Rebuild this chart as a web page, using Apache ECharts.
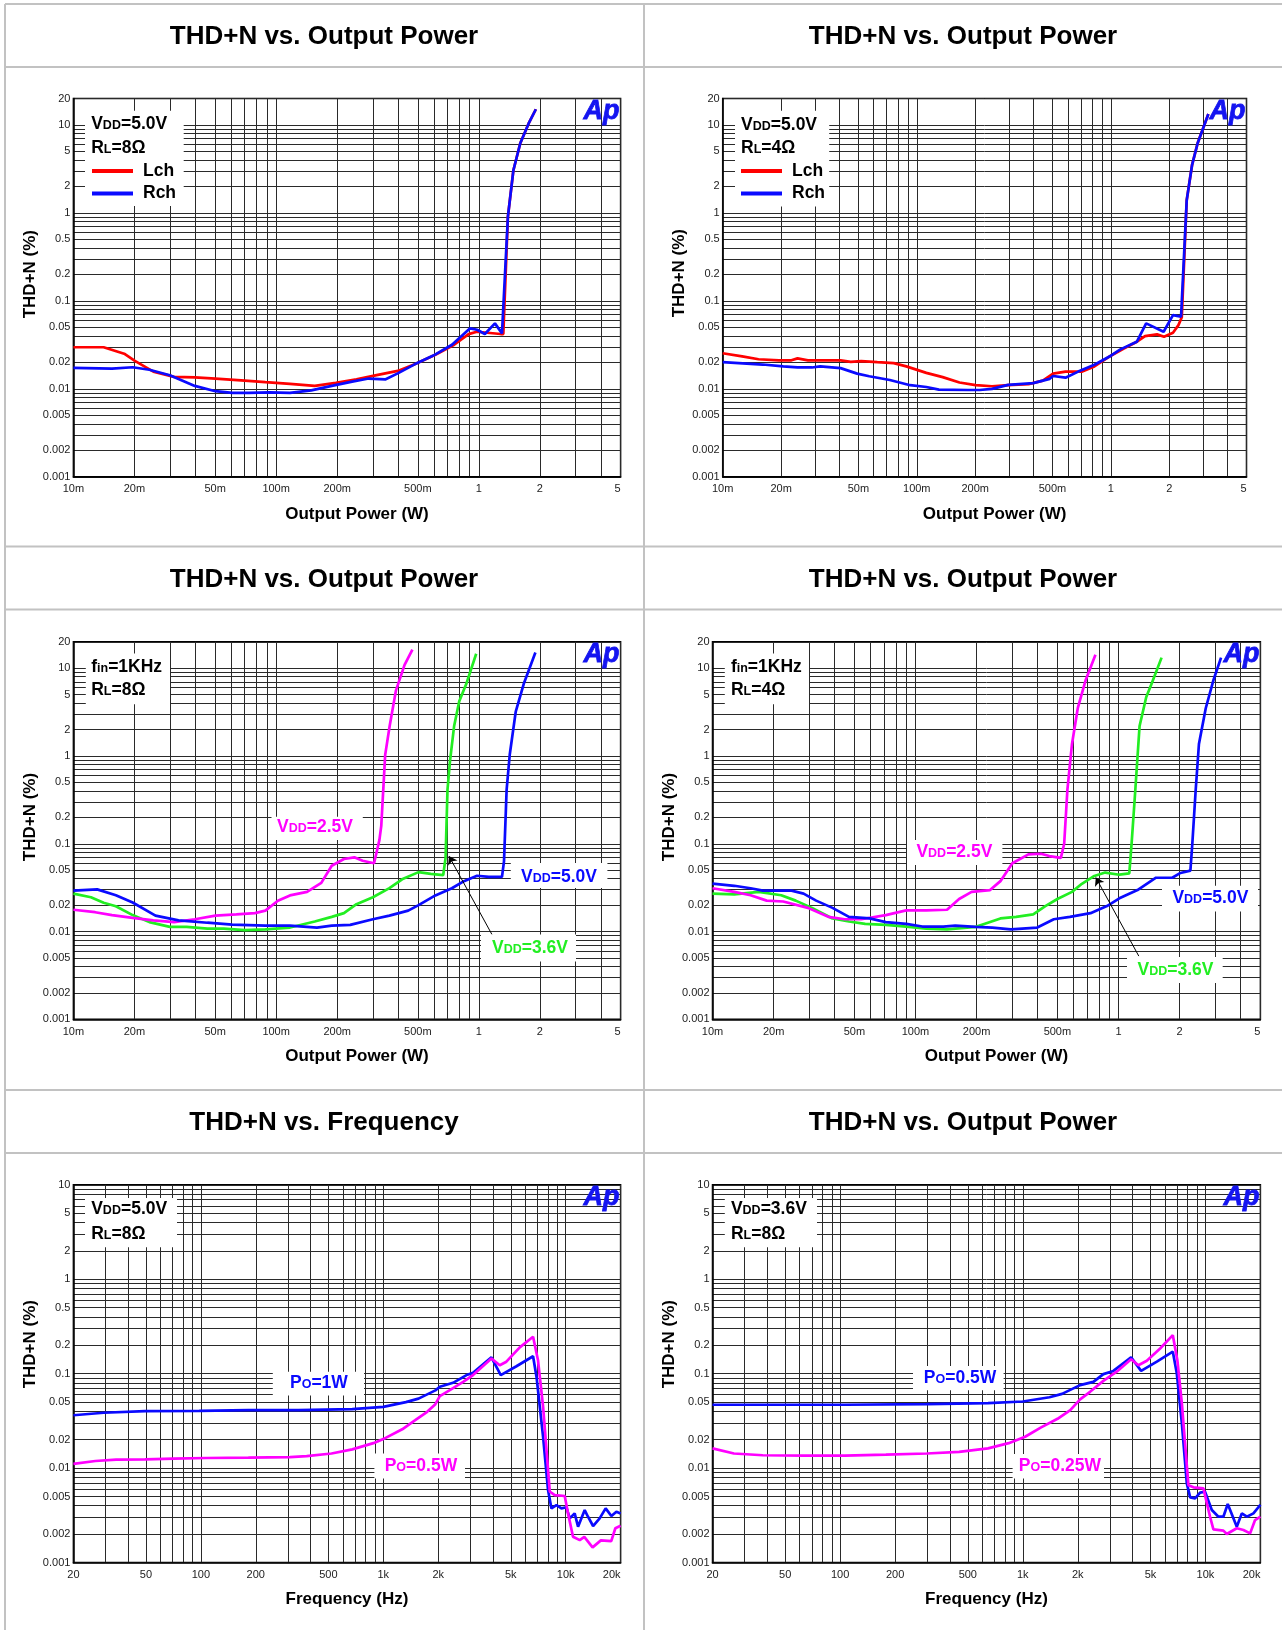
<!DOCTYPE html>
<html><head><meta charset="utf-8">
<script src="https://cdn.jsdelivr.net/npm/echarts@6/dist/echarts.min.js"></script>
<style>html,body{margin:0;padding:0;background:#fff}#c{width:1282px;height:1630px}</style>
</head><body><div id="c"></div>
<script>
// ---------------- tick labels ----------------
const powerXTicks  = [0.01, 0.02, 0.05, 0.1, 0.2, 0.5, 1, 2, 5];
const powerXLabels = ['10m', '20m', '50m', '100m', '200m', '500m', '1', '2', '5'];
const freqXTicks   = [20, 50, 100, 200, 500, 1000, 2000, 5000, 10000, 20000];
const freqXLabels  = ['20', '50', '100', '200', '500', '1k', '2k', '5k', '10k', '20k'];
const thdYTicks    = [0.001, 0.002, 0.005, 0.01, 0.02, 0.05, 0.1, 0.2, 0.5, 1, 2, 5, 10, 20];
const thdYLabels   = ['0.001', '0.002', '0.005', '0.01', '0.02', '0.05', '0.1', '0.2', '0.5', '1', '2', '5', '10', '20'];

// ---------------- panel 1: VDD=5.0V, RL=8Ω (W, %) ----------------
const p1Lch = [[0.01,0.0297],[0.0141,0.0297],[0.0178,0.0251],[0.0201,0.0208],[0.0248,0.0157],[0.0314,0.0137],[0.0397,0.0135],[0.0502,0.0131],[0.070,0.0124],[0.0885,0.0119],[0.117,0.0114],[0.155,0.0108],[0.197,0.0117],[0.249,0.0128],[0.313,0.0143],[0.398,0.0160],[0.482,0.0190],[0.610,0.0244],[0.755,0.0317],[0.890,0.0419],[0.977,0.0446],[1.28,0.042],[1.32,0.042],[1.39,0.90],[1.48,3.06],[1.60,6.2],[1.76,10.4],[1.91,15.1]];
const p1Rch = [[0.01,0.0173],[0.0155,0.0170],[0.0196,0.0176],[0.0237,0.0165],[0.0299,0.0143],[0.0397,0.0108],[0.0502,0.0094],[0.0607,0.0090],[0.0732,0.0090],[0.0929,0.0091],[0.117,0.0090],[0.149,0.0096],[0.188,0.0108],[0.237,0.0121],[0.286,0.0131],[0.345,0.0128],[0.398,0.0150],[0.482,0.0190],[0.596,0.0239],[0.737,0.0317],[0.905,0.0487],[0.98,0.047],[1.07,0.042],[1.20,0.0555],[1.30,0.0427],[1.32,0.042],[1.39,0.90],[1.48,3.06],[1.60,6.2],[1.76,10.4],[1.91,15.1]];

// ---------------- panel 2: VDD=5.0V, RL=4Ω ----------------
const p2Lch = [[0.01,0.0254],[0.0126,0.0234],[0.0153,0.0217],[0.0195,0.0211],[0.0226,0.0211],[0.0243,0.0222],[0.0275,0.0211],[0.0405,0.0211],[0.0457,0.0203],[0.0517,0.0207],[0.0626,0.0201],[0.0761,0.0196],[0.0883,0.0180],[0.112,0.0152],[0.136,0.0136],[0.166,0.0118],[0.201,0.0110],[0.244,0.0107],[0.296,0.0110],[0.377,0.0113],[0.446,0.0124],[0.504,0.0149],[0.584,0.0157],[0.712,0.0157],[0.823,0.0180],[1.0,0.0238],[1.16,0.0286],[1.37,0.0346],[1.50,0.0398],[1.73,0.0416],[1.88,0.0391],[2.09,0.0434],[2.23,0.053],[2.32,0.065],[2.46,1.40],[2.62,3.49],[2.80,6.2],[3.18,13.3]];
const p2Rch = [[0.01,0.0201],[0.0133,0.0194],[0.0161,0.0189],[0.0205,0.0180],[0.0243,0.0175],[0.0288,0.0175],[0.0318,0.0180],[0.0405,0.0172],[0.0493,0.0149],[0.0569,0.0139],[0.0726,0.0126],[0.0925,0.0110],[0.112,0.0105],[0.130,0.0098],[0.183,0.0097],[0.211,0.0097],[0.244,0.0100],[0.296,0.0111],[0.398,0.0116],[0.484,0.0130],[0.504,0.0140],[0.584,0.0134],[0.679,0.0157],[0.823,0.0188],[1.0,0.0238],[1.12,0.0281],[1.36,0.0343],[1.52,0.0555],[1.87,0.0446],[2.09,0.069],[2.30,0.066],[2.32,0.066],[2.46,1.40],[2.62,3.49],[2.80,6.2],[3.18,13.3]];

// ---------------- panel 3: fin=1kHz, RL=8Ω ----------------
const p3V50 = [[0.01,0.0292],[0.0131,0.0302],[0.0162,0.0259],[0.0196,0.0214],[0.0254,0.0152],[0.0330,0.0134],[0.0458,0.0126],[0.0607,0.0120],[0.0885,0.0117],[0.117,0.0117],[0.159,0.0111],[0.188,0.0117],[0.232,0.0119],[0.300,0.0138],[0.362,0.0152],[0.448,0.0173],[0.504,0.0200],[0.610,0.0258],[0.736,0.0311],[0.844,0.0375],[0.979,0.0432],[1.12,0.0420],[1.30,0.0420],[1.33,0.063],[1.37,0.41],[1.42,1.04],[1.52,3.21],[1.67,6.8],[1.90,15.1]];
const p3V36 = [[0.01,0.0270],[0.0122,0.0246],[0.0141,0.0213],[0.0162,0.0194],[0.0196,0.0154],[0.0237,0.0128],[0.0299,0.0113],[0.0362,0.0113],[0.0458,0.0108],[0.0552,0.0108],[0.070,0.0104],[0.0885,0.0106],[0.117,0.0111],[0.155,0.0130],[0.188,0.0147],[0.216,0.0162],[0.249,0.0205],[0.300,0.0246],[0.362,0.0312],[0.418,0.0393],[0.504,0.0475],[0.579,0.0453],[0.667,0.0440],[0.685,0.069],[0.70,0.41],[0.72,0.87],[0.755,2.2],[0.80,4.2],[0.87,6.8],[0.97,14.6]];
const p3V25 = [[0.01,0.0177],[0.0128,0.0166],[0.0155,0.0154],[0.0196,0.0143],[0.0248,0.0134],[0.0314,0.0128],[0.0397,0.0138],[0.0502,0.0152],[0.0636,0.0157],[0.0786,0.0162],[0.0885,0.0173],[0.102,0.0224],[0.117,0.0258],[0.142,0.0283],[0.167,0.0358],[0.188,0.0562],[0.216,0.067],[0.243,0.070],[0.267,0.064],[0.304,0.060],[0.323,0.110],[0.33,0.16],[0.345,1.03],[0.363,2.2],[0.39,5.6],[0.43,10.9],[0.47,16.3]];

// ---------------- panel 4: fin=1kHz, RL=4Ω ----------------
const p4V50 = [[0.01,0.0352],[0.0128,0.0332],[0.0154,0.0311],[0.0177,0.0292],[0.0245,0.0292],[0.0281,0.027],[0.0324,0.0225],[0.0390,0.0186],[0.0470,0.0147],[0.0594,0.0141],[0.0714,0.0128],[0.090,0.0122],[0.108,0.0114],[0.137,0.0114],[0.157,0.0117],[0.198,0.0113],[0.239,0.0111],[0.295,0.0106],[0.398,0.0111],[0.480,0.0138],[0.576,0.0147],[0.728,0.0162],[0.877,0.0195],[1.01,0.0239],[1.24,0.0297],[1.53,0.041],[1.84,0.041],[2.02,0.0465],[2.26,0.0494],[2.31,0.10],[2.40,0.41],[2.49,1.37],[2.69,3.5],[2.94,7.4],[3.2,13.2]];
const p4V36 = [[0.01,0.0270],[0.0128,0.0265],[0.0169,0.0283],[0.0218,0.0259],[0.0257,0.0225],[0.0309,0.0186],[0.0390,0.0141],[0.047,0.0130],[0.0565,0.0122],[0.0714,0.0119],[0.090,0.0114],[0.113,0.0108],[0.143,0.0106],[0.198,0.0113],[0.218,0.0122],[0.262,0.0141],[0.313,0.0147],[0.380,0.0157],[0.436,0.0195],[0.50,0.0235],[0.59,0.0283],[0.66,0.035],[0.76,0.043],[0.86,0.047],[1.01,0.0444],[1.13,0.046],[1.16,0.10],[1.21,0.41],[1.27,2.2],[1.37,4.7],[1.46,6.8],[1.63,13.2]];
const p4V25 = [[0.01,0.0311],[0.0128,0.0283],[0.0154,0.0259],[0.0185,0.0225],[0.0223,0.0220],[0.0295,0.0186],[0.0372,0.0147],[0.0448,0.0138],[0.054,0.0138],[0.0714,0.0154],[0.090,0.0174],[0.113,0.0174],[0.143,0.0177],[0.164,0.0235],[0.189,0.0283],[0.233,0.0297],[0.262,0.0375],[0.30,0.0600],[0.36,0.0756],[0.415,0.077],[0.456,0.0724],[0.52,0.069],[0.54,0.10],[0.56,0.41],[0.59,1.37],[0.63,3.5],[0.69,7.4],[0.77,14.2]];

// ---------------- panel 5: VDD=5.0V, RL=8Ω (Hz, %) ----------------
const p5Po1W = [[20,0.0363],[29.3,0.0386],[49.4,0.0402],[97.8,0.0405],[182,0.0412],[342,0.0412],[676,0.0421],[1000,0.0446],[1330,0.050],[1560,0.0545],[1930,0.0666],[2041,0.0727],[2412,0.0801],[2859,0.0967],[3105,0.102],[3917,0.149],[4405,0.0967],[5370,0.120],[6625,0.153],[6917,0.093],[7518,0.0215],[8002,0.00587],[8354,0.00375],[8897,0.00407],[9477,0.00375],[10090,0.00385],[10530,0.00294],[11200,0.00332],[11690,0.0024],[12710,0.0036],[13250,0.00306],[14130,0.00244],[15350,0.00294],[16560,0.00375],[17800,0.00311],[18970,0.00346],[20000,0.00332]];
const p5Po05W = [[20,0.0111],[26.4,0.0119],[34.3,0.0123],[49.4,0.0124],[71,0.0126],[108,0.0128],[182,0.0129],[308,0.0131],[380,0.0134],[520,0.0143],[676,0.0158],[882,0.0184],[1030,0.0209],[1270,0.0258],[1490,0.0320],[1740,0.0395],[1930,0.0476],[2041,0.058],[2316,0.0671],[2740,0.082],[3105,0.0967],[3917,0.145],[4350,0.123],[4730,0.134],[5600,0.190],[6625,0.246],[7050,0.139],[7520,0.0446],[8180,0.00563],[8710,0.00519],[9880,0.00507],[10300,0.00332],[10970,0.00188],[11940,0.00173],[12650,0.00187],[14040,0.00145],[15590,0.00172],[17770,0.00169],[18720,0.00231],[20000,0.00246]];

// ---------------- panel 6: VDD=3.6V, RL=8Ω ----------------
const p6Po05W = [[20,0.0469],[37.7,0.0469],[106,0.0469],[298,0.0477],[645,0.0487],[1000,0.0508],[1400,0.0563],[1640,0.0612],[2060,0.0757],[2434,0.082],[2762,0.099],[3133,0.107],[3918,0.149],[4446,0.107],[5420,0.134],[6630,0.171],[6970,0.101],[7430,0.0298],[7910,0.0069],[8250,0.0049],[8780,0.00479],[9350,0.0055],[9950,0.00563],[10840,0.0036],[11780,0.00306],[12540,0.00306],[13250,0.00417],[14850,0.0024],[15820,0.00332],[16860,0.00306],[18320,0.00332],[20000,0.0041]];
const p6Po025W = [[20,0.0162],[26.2,0.0143],[37.7,0.0137],[63.6,0.0136],[106,0.0136],[178,0.0139],[298,0.0143],[448,0.0149],[645,0.0162],[837,0.0184],[1030,0.0215],[1260,0.0270],[1550,0.0333],[1820,0.0412],[2060,0.0535],[2335,0.0643],[2762,0.084],[3267,0.105],[3918,0.142],[4296,0.123],[4776,0.137],[5650,0.185],[6630,0.256],[7020,0.139],[7430,0.0485],[8070,0.0066],[8600,0.00626],[9750,0.0061],[10600,0.00306],[11060,0.00225],[12540,0.00218],[13090,0.00201],[14850,0.00231],[16150,0.00221],[17570,0.00204],[18700,0.00282],[20000,0.00306]];

// arrow targets on the 3.6V curves (W, %)
const p3ArrowTip = [0.712, 0.0724];
const p4ArrowTip = [0.773, 0.0413];

// ---------------- helpers ----------------
const FONT = "'Liberation Sans', Arial, Helvetica, sans-serif";
const COL = {red:'#ff0000', blue:'#0a0aff', green:'#22ee22', mag:'#ff00ff'};

function decadeGrid(lo, hi) {
  const out = [];
  for (let e = Math.floor(Math.log10(lo)); e <= Math.ceil(Math.log10(hi)); e++) {
    for (let k = 1; k <= 9; k++) {
      const v = Number((k * Math.pow(10, e)).toPrecision(6));
      if (v >= lo * 0.9999 && v <= hi * 1.0001) out.push(v);
    }
  }
  return out;
}
function fmt(vals, labels) {
  return function (v) {
    for (let i = 0; i < vals.length; i++) if (Math.abs(v / vals[i] - 1) < 1e-4) return labels[i];
    return '';
  };
}

const grids = [
  {left: 73.4,  top: 98.5,   width: 547.2, height: 378.3},
  {left: 722.7, top: 98.5,   width: 523.8, height: 378.3},
  {left: 73.4,  top: 641.8,  width: 547.2, height: 377.5},
  {left: 712.5, top: 641.8,  width: 547.9, height: 377.5},
  {left: 73.4,  top: 1184.8, width: 547.2, height: 377.8},
  {left: 712.5, top: 1184.8, width: 547.9, height: 377.8}
];
const kinds = ['power','power','power','power','freq','freq'];
const yNameGap = [32, 30, 32, 31, 32, 31];
const yNameShift = [27, 29, 27, 27, 59, 59];

const xAxes = [], yAxes = [];
grids.forEach(function (g, i) {
  const isP = kinds[i] === 'power';
  xAxes.push({
    type: 'log', logBase: 10, gridIndex: i,
    min: isP ? 0.01 : 20, max: isP ? 5 : 20000,
    axisLine: {show: true, onZero: false, lineStyle: {color: '#000', width: 1.5}},
    axisTick: {show: false, customValues: isP ? decadeGrid(0.01, 5) : decadeGrid(20, 20000)},
    axisLabel: {customValues: isP ? powerXTicks : freqXTicks,
      formatter: isP ? fmt(powerXTicks, powerXLabels) : fmt(freqXTicks, freqXLabels),
      fontSize: 11, color: '#222', fontFamily: FONT, margin: 7, alignMaxLabel: 'right'},
    splitLine: {show: true, lineStyle: {color: '#2a2a2a', width: 1}},
    name: isP ? 'Output Power (W)' : 'Frequency (Hz)',
    nameLocation: 'middle', nameGap: isP ? 29 : 28,
    nameTextStyle: {fontSize: 17, fontWeight: 'bold', color: '#000', fontFamily: FONT,
      padding: isP ? [0, 0, 0, 20] : [0, 0, 0, 0]}
  });
  yAxes.push({
    type: 'log', logBase: 10, gridIndex: i,
    min: 0.001, max: isP ? 20 : 10,
    axisLine: {show: true, onZero: false, lineStyle: {color: '#000', width: 1.5}},
    axisTick: {show: false, customValues: isP ? decadeGrid(0.001, 20) : decadeGrid(0.001, 10)},
    axisLabel: {customValues: isP ? thdYTicks : thdYTicks.slice(0, 13),
      formatter: fmt(thdYTicks, thdYLabels),
      fontSize: 11, color: '#222', fontFamily: FONT, margin: 3},
    splitLine: {show: true, lineStyle: {color: '#2a2a2a', width: 1}},
    name: 'THD+N (%)', nameLocation: 'middle', nameGap: yNameGap[i],
    nameTextStyle: {fontSize: 17, fontWeight: 'bold', color: '#000', fontFamily: FONT,
      padding: [0, 0, 0, yNameShift[i]]}
  });
});

function line(name, data, color, idx, extra) {
  return Object.assign({
    type: 'line', name: name, data: data, xAxisIndex: idx, yAxisIndex: idx,
    showSymbol: false, symbol: 'none', color: color,
    lineStyle: {color: color, width: 2.7}, z: 3, silent: true
  }, extra || {});
}
function arrow(startPx, tip) {
  return {markLine: {silent: true, symbol: ['none', 'arrow'], symbolSize: 8,
    lineStyle: {color: '#000', width: 1, type: 'solid'}, label: {show: false},
    emphasis: {disabled: true},
    data: [[{x: startPx[0], y: startPx[1]}, {coord: tip}]]}};
}

const series = [
  line('Lch', p1Lch, COL.red, 0), line('Rch', p1Rch, COL.blue, 0),
  line('Lch', p2Lch, COL.red, 1), line('Rch', p2Rch, COL.blue, 1),
  line('VDD=3.6V 8Ω', p3V36, COL.green, 2, arrow([492, 934.6], p3ArrowTip)),
  line('VDD=2.5V 8Ω', p3V25, COL.mag, 2), line('VDD=5.0V 8Ω', p3V50, COL.blue, 2),
  line('VDD=3.6V 4Ω', p4V36, COL.green, 3, arrow([1138.8, 956.1], p4ArrowTip)),
  line('VDD=2.5V 4Ω', p4V25, COL.mag, 3), line('VDD=5.0V 4Ω', p4V50, COL.blue, 3),
  line('PO=1W', p5Po1W, COL.blue, 4), line('PO=0.5W', p5Po05W, COL.mag, 4),
  line('PO=0.5W 3.6V', p6Po05W, COL.blue, 5), line('PO=0.25W', p6Po025W, COL.mag, 5)
];

// ---------------- annotation graphics ----------------
function rich(color) {
  return {
    a: {fontSize: 17.5, fontWeight: 'bold', fontFamily: FONT, fill: color, verticalAlign: 'bottom'},
    s: {fontSize: 12.5, fontWeight: 'bold', fontFamily: FONT, fill: color, verticalAlign: 'bottom', padding: [0, 0, 1, 0]}
  };
}
const G = [];
// table borders
[4, 67, 546.5, 609.5, 1090, 1153].forEach(function (y) {
  G.push({type: 'line', shape: {x1: 5, y1: y, x2: 1282, y2: y}, style: {stroke: '#c2c2c2', lineWidth: 2}, z: 1});
});
[5, 644].forEach(function (x) {
  G.push({type: 'line', shape: {x1: x, y1: 4, x2: x, y2: 1630}, style: {stroke: '#c2c2c2', lineWidth: 2}, z: 1});
});
function box(x, y, w, h) {
  G.push({type: 'rect', shape: {x: x, y: y, width: w, height: h}, style: {fill: '#fff'}, z: 10});
}
function txt(x, y, t, color) {
  G.push({type: 'text', x: x, y: y, z: 11,
    style: {text: t, rich: rich(color || '#000'), fill: color || '#000', verticalAlign: 'middle', align: 'left'}});
}
// panel 1
box(85, 110.7, 98.7, 95.3); txt(91.2, 124.3, '{a|V}{s|DD}{a|=5.0V}'); txt(91.2, 148.2, '{a|R}{s|L}{a|=8Ω}');
// panel 2
box(735, 110.7, 94.2, 95.7); txt(741.1, 125, '{a|V}{s|DD}{a|=5.0V}'); txt(741.1, 148.2, '{a|R}{s|L}{a|=4Ω}');
// panel 3
box(85.8, 653.6, 84.2, 50.7); txt(91.2, 666.8, '{a|f}{s|in}{a|=1KHz}'); txt(91.2, 690, '{a|R}{s|L}{a|=8Ω}');
box(271.5, 816.8, 91.3, 23.2); txt(277, 827.5, '{a|V}{s|DD}{a|=2.5V}', COL.mag);
box(510.8, 863, 96.6, 25); txt(521, 876.8, '{a|V}{s|DD}{a|=5.0V}', COL.blue);
box(481, 934.6, 95, 26.8); txt(492, 948, '{a|V}{s|DD}{a|=3.6V}', COL.green);
// panel 4
box(724.8, 653.6, 84.2, 50.7); txt(730.9, 666.8, '{a|f}{s|in}{a|=1KHz}'); txt(730.9, 690, '{a|R}{s|L}{a|=4Ω}');
box(907, 840, 95.4, 25); txt(916.4, 851.8, '{a|V}{s|DD}{a|=2.5V}', COL.mag);
box(1162, 885.7, 96, 25.7); txt(1172.4, 898.2, '{a|V}{s|DD}{a|=5.0V}', COL.blue);
box(1127, 957, 95.7, 26); txt(1137.5, 970.4, '{a|V}{s|DD}{a|=3.6V}', COL.green);
// panel 5
box(85, 1198, 92, 49.3); txt(91.2, 1209.4, '{a|V}{s|DD}{a|=5.0V}'); txt(91.2, 1233.8, '{a|R}{s|L}{a|=8Ω}');
box(272.8, 1371.8, 91.2, 23.6); txt(290, 1383.2, '{a|P}{s|O}{a|=1W}', COL.blue);
box(374.4, 1453.4, 90.6, 25.1); txt(384.7, 1466.3, '{a|P}{s|O}{a|=0.5W}', COL.mag);
// panel 6
box(724.8, 1198, 92.2, 49.3); txt(730.9, 1209.4, '{a|V}{s|DD}{a|=3.6V}'); txt(730.9, 1233.8, '{a|R}{s|L}{a|=8Ω}');
box(913, 1365.9, 90.6, 24.3); txt(923.8, 1378, '{a|P}{s|O}{a|=0.5W}', COL.blue);
box(1012.6, 1454, 91.4, 24.5); txt(1018.8, 1466.3, '{a|P}{s|O}{a|=0.25W}', COL.mag);
// Ap logos
grids.forEach(function (g) {
  G.push({type: 'text', x: g.left + g.width - 1, y: g.top + 13, z: 12,
    style: {text: 'Ap', fontSize: 27, fontWeight: 900, fontStyle: 'italic', fontFamily: FONT,
      fill: '#1414f0', stroke: '#1414f0', lineWidth: 0.8, align: 'right', verticalAlign: 'middle'}});
});

// ---------------- titles ----------------
const titleTexts = ['THD+N vs. Output Power', 'THD+N vs. Output Power', 'THD+N vs. Output Power',
  'THD+N vs. Output Power', 'THD+N vs. Frequency', 'THD+N vs. Output Power'];
const titleX = [324, 963, 324, 963, 324, 963];
const titleY = [36.6, 36.6, 579.8, 579.8, 1122.7, 1122.7];
const titles = titleTexts.map(function (t, i) {
  return {text: t, left: titleX[i], top: titleY[i], textAlign: 'center', textVerticalAlign: 'middle', padding: 0,
    textStyle: {fontSize: 26, fontWeight: 'bold', color: '#000', fontFamily: FONT}};
});

const legendCommon = {data: ['Lch', 'Rch'], orient: 'vertical', icon: 'rect', itemWidth: 41, itemHeight: 4,
  itemGap: 4.5, padding: 0, selectedMode: false, z: 20,
  textStyle: {fontSize: 17.5, fontWeight: 'bold', color: '#000', fontFamily: FONT, padding: [0, 0, 0, 5]}};

const chart = echarts.init(document.getElementById('c'), null, {renderer: 'canvas'});
chart.setOption({
  animation: false,
  backgroundColor: '#fff',
  title: titles,
  grid: grids.map(function (g) { return Object.assign({show: true, borderColor: '#000', borderWidth: 1.5, backgroundColor: 'transparent', containLabel: false}, g); }),
  xAxis: xAxes,
  yAxis: yAxes,
  legend: [Object.assign({left: 92, top: 162}, legendCommon), Object.assign({left: 741, top: 162}, legendCommon)],
  series: series,
  graphic: {elements: G}
});
</script>
</body></html>
